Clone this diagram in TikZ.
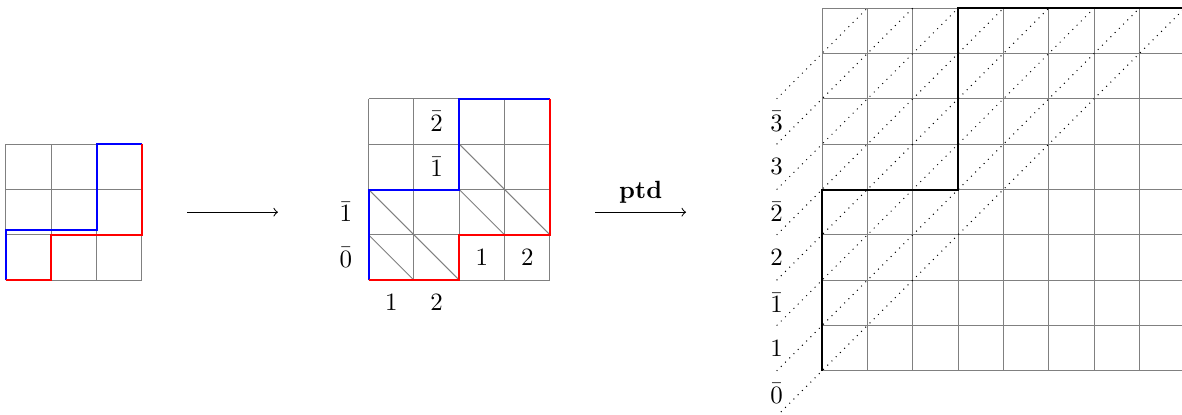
\documentclass[tikz,border=0pt]{standalone}
\usepackage{amsmath,amssymb}
\usepackage{tikz}

\begin{document}
\begin{tikzpicture}[scale=0.64]
\useasboundingbox (-0.13,-2.96) rectangle (25.94,6.18);
\tikzstyle{gr}=[gray, line width=0.4pt]
\tikzstyle{dg}=[gray, line width=0.4pt]
\tikzstyle{bl}=[blue, thick]
\tikzstyle{rd}=[red, thick]
\tikzstyle{dt}=[dotted]
\tikzstyle{pth}=[black, thick]
\tikzstyle{lbl}=[inner sep=1pt]

% left diagram
\draw[gr] (0,0) grid (3,3);
\draw[bl] (0,0) -- (0,1.1) -- (2,1.1) -- (2,3) -- (3,3);
\draw[rd] (0,0) -- (1,0) -- (1,1) -- (3,1) -- (3,3);

\coordinate (a1) at (4,1.5);
\coordinate (b1) at (6,1.5);
\draw[->] (a1) -- (b1);

% middle diagram
\begin{scope}[shift={(8,0)}]
\draw[gr] (0,0) grid (4,4);
\draw[dg] (0,2) -- (2,0);
\draw[dg] (0,1) -- (1,0);
\draw[dg] (2,3) -- (4,1);
\draw[dg] (2,2) -- (3,1);
\draw[bl] (0,0) -- (0,2) -- (2,2) -- (2,4) -- (4,4);
\draw[rd] (0,0) -- (2,0) -- (2,1) -- (4,1) -- (4,4);
\node[lbl] (m1) at (-0.5,1.5) {$\bar{1}$};
\node[lbl] (m0) at (-0.5,0.5) {$\bar{0}$};
\node[lbl] (c1) at (0.5,-0.5) {$1$};
\node[lbl] (c2) at (1.5,-0.5) {$2$};
\node[lbl] (d1) at (2.5,0.5) {$1$};
\node[lbl] (d2) at (3.5,0.5) {$2$};
\node[lbl] (u1) at (1.5,2.5) {$\bar{1}$};
\node[lbl] (u2) at (1.5,3.5) {$\bar{2}$};
\end{scope}

\coordinate (a2) at (13,1.5);
\coordinate (b2) at (15,1.5);
\draw[->] (a2) -- node[above] (lb) {\textbf{ptd}} (b2);

% right diagram
\begin{scope}[shift={(18,-2)}]
\draw[gr] (0,0) grid (8,8);
\draw[dt] (-1,-1) -- (8,8);
\draw[dt] (-1,0) -- (7,8);
\draw[dt] (-1,1) -- (6,8);
\draw[dt] (-1,2) -- (5,8);
\draw[dt] (-1,3) -- (4,8);
\draw[dt] (-1,4) -- (3,8);
\draw[dt] (-1,5) -- (2,8);
\draw[dt] (-1,6) -- (1,8);
\draw[pth] (0,0) -- (0,4) -- (3,4) -- (3,8) -- (8,8);
\node[lbl] (r0) at (-1,-0.5) {$\bar{0}$};
\node[lbl] (r1) at (-1,0.5) {$1$};
\node[lbl] (r2) at (-1,1.5) {$\bar{1}$};
\node[lbl] (r3) at (-1,2.5) {$2$};
\node[lbl] (r4) at (-1,3.5) {$\bar{2}$};
\node[lbl] (r5) at (-1,4.5) {$3$};
\node[lbl] (r6) at (-1,5.5) {$\bar{3}$};
\end{scope}
\end{tikzpicture}
\end{document}
